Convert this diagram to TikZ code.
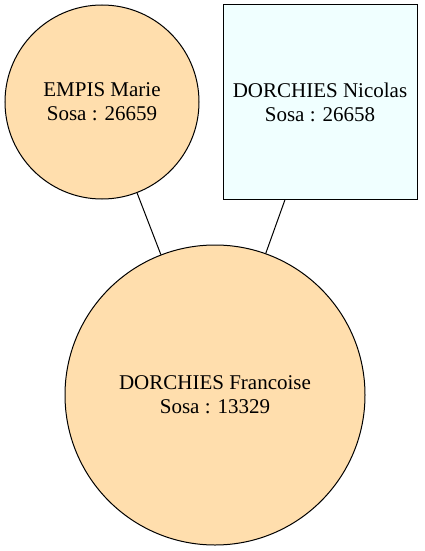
\documentclass[tikz,border=0pt]{standalone}
\usepackage{fontspec}
\setmainfont{Liberation Serif}
\definecolor{peach}{HTML}{FFDEAD}
\definecolor{azurebox}{HTML}{F0FFFF}
\begin{document}
\begin{tikzpicture}[x=1pt,y=-1pt,
  person/.style={draw=black, line width=1pt, align=center, inner sep=0pt,
    font=\fontsize{21}{24}\selectfont},
  female/.style={person, circle, fill=peach},
  male/.style={person, rectangle, fill=azurebox},
  link/.style={draw=black, line width=1pt}]
\useasboundingbox (0,0) rectangle (424,551);
\node[female, minimum size=194pt] (marie) at (102,102) {EMPIS Marie\\Sosa : 26659};
\node[male, minimum width=194pt, minimum height=194pt] (nicolas) at (320,102) {DORCHIES Nicolas\\Sosa : 26658};
\node[female, minimum size=300pt] (francoise) at (215,395) {DORCHIES Francoise\\Sosa : 13329};
\draw[link] (marie) -- (francoise);
\draw[link] (nicolas) -- (francoise);
\end{tikzpicture}
\end{document}
